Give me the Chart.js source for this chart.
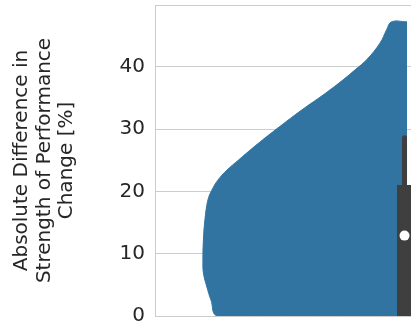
<!DOCTYPE html>
<html>
<head>
<meta charset="utf-8">
<script src="https://cdn.jsdelivr.net/npm/chart.js@4/dist/chart.umd.min.js"></script>
<style>
  html, body { margin: 0; padding: 0; background: #fff; }
  .chart-container { width: 411px; height: 327px; position: relative; }
</style>
</head>
<body>
<div class="chart-container"><canvas id="myChart"></canvas></div>
<script>
// violin outline (left edge), value on y and half width in x units
const violinY = [0, 2.6, 4.65, 6.9, 9.0, 12.2, 15.4, 18.6, 20.2, 21.8, 23.4, 25.0, 27.7, 30.4, 33.05, 35.7, 37.9, 39.5, 41.1, 43.8, 45.9, 47.2];
const violinWidth = [0.374, 0.388, 0.396, 0.403, 0.404, 0.403, 0.400, 0.394, 0.386, 0.374, 0.356, 0.333, 0.293, 0.250, 0.206, 0.159, 0.123, 0.099, 0.076, 0.049, 0.036, 0.026];
const violinTop = 47.2;
const violinRight = 0.005;

// inner box
const q1 = 0;
const q3 = 21.0;
const median = 12.9;
const whiskerLow = 0;
const whiskerHigh = 28.6;

const yTicks = [0, 10, 20, 30, 40];
const yLabel = ['Absolute Difference in', 'Strength of Performance', 'Change [%]'];

const font = { family: 'DejaVu Sans', size: 20, lineHeight: 1.125 };
const textColor = '#262626';
const gridColor = '#cccccc';

// no extra padding from the axes, the layout padding places the plot
const noPad = (scale) => {
  scale.paddingTop = 0;
  scale.paddingBottom = 0;
  scale.paddingLeft = 0;
  scale.paddingRight = 0;
};

// polygon: bottom right corner, up the left edge, top right corner
const shape = [{ x: violinRight, y: 0 }];
violinY.forEach((y, i) => shape.push({ x: -violinWidth[i], y: y }));
shape.push({ x: violinRight, y: violinTop });

const ctx = document.getElementById('myChart').getContext('2d');
const myChart = new Chart(ctx, {
  type: 'scatter',
  data: {
    datasets: [
      {
        data: shape,
        showLine: true,
        fill: 'shape',
        backgroundColor: '#3274a1',
        borderColor: '#3274a1',
        borderWidth: 1,
        tension: 0.4,
        pointRadius: 0,
        order: 4,
      },
      {
        data: [{ x: 0, y: q1 }, { x: 0, y: q3 }],
        showLine: true,
        borderColor: '#3f3f3f',
        borderWidth: 15,
        borderCapStyle: 'butt',
        pointRadius: 0,
        order: 3,
      },
      {
        data: [{ x: 0, y: whiskerLow }, { x: 0, y: whiskerHigh }],
        showLine: true,
        borderColor: '#3f3f3f',
        borderWidth: 5,
        borderCapStyle: 'round',
        pointRadius: 0,
        order: 2,
      },
      {
        data: [{ x: 0, y: median }],
        pointRadius: 5,
        pointBackgroundColor: '#ffffff',
        pointBorderWidth: 0,
        pointBorderColor: '#ffffff',
        order: 1,
      },
    ],
  },
  options: {
    responsive: true,
    maintainAspectRatio: false,
    animation: false,
    layout: { autoPadding: false, padding: { left: 0, right: 0, top: 5, bottom: 11 } },
    plugins: { legend: { display: false }, tooltip: { enabled: false } },
    scales: {
      x: {
        type: 'linear',
        min: -0.5,
        max: 0.013,
        grid: { display: false },
        ticks: { display: false },
        border: { display: true, color: gridColor, width: 1 },
        afterFit: (scale) => { scale.height = 0; noPad(scale); },
      },
      x2: {
        type: 'linear',
        position: 'top',
        min: -0.5,
        max: 0.013,
        grid: { display: false },
        ticks: { display: false },
        border: { display: true, color: gridColor, width: 1 },
        afterFit: (scale) => { scale.height = 0; noPad(scale); },
      },
      y: {
        min: 0,
        max: 49.9,
        grid: { color: gridColor, lineWidth: 1, drawTicks: false },
        border: { display: true, color: gridColor, width: 1 },
        ticks: {
          stepSize: 10,
          includeBounds: false,
          padding: 10,
          color: textColor,
          font: font,
        },
        afterBuildTicks: (scale) => {
          scale.ticks = yTicks.map(v => ({ value: v }));
        },
        title: {
          display: true,
          text: yLabel,
          color: textColor,
          font: font,
          padding: { top: 10.75, bottom: 0 },
        },
        afterFit: (scale) => { scale.width = 155; noPad(scale); },
      },
    },
  },
});
</script>
</body>
</html>
